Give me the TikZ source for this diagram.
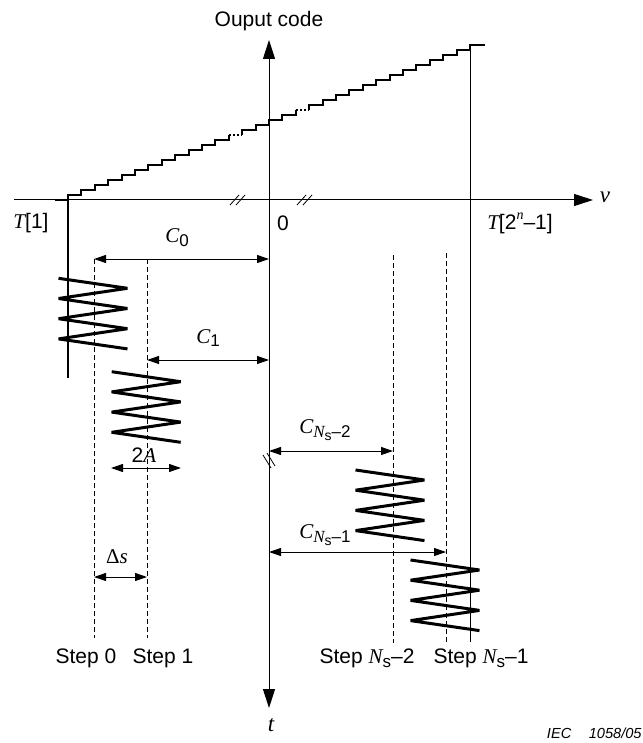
\documentclass[tikz,border=0pt]{standalone}
\usepackage{fontspec}
\setmainfont{Liberation Sans}
\newfontfamily\tms{Liberation Serif}
\usetikzlibrary{arrows.meta}
\newcommand{\vi}[1]{{\tms\itshape #1}}
\newcommand{\lo}[1]{\raisebox{-0.35ex}{\fontsize{8.5}{9}\selectfont #1}}
\newcommand{\llo}[1]{\raisebox{-0.3ex}{\fontsize{7}{8}\selectfont #1}}
\newcommand{\up}[1]{\raisebox{0.9ex}{\fontsize{7}{8}\selectfont #1}}

\begin{document}
\begin{tikzpicture}[x=0.5pt, y=-0.5pt,
    txt/.style={inner sep=0pt, font=\fontsize{10.5}{12}\selectfont},
    axis/.style={line width=0.5pt},
    dim/.style={line width=0.5pt, {Triangle[length=6pt,width=4pt]}-{Triangle[length=6pt,width=4pt]}},
    guide/.style={line width=0.5pt, dash pattern=on 2.5pt off 1.5pt},
    stair/.style={line width=1pt},
    zig/.style={line width=1.5pt, line join=bevel},
    brk/.style={line width=0.4pt},
    zigzag/.pic={\draw[zig] (-34.5,0) -- (34.5,10) foreach \i in {1,2,3}{ -- (-34.5,20.2*\i) -- (34.5,10+20.2*\i) };}
]
\useasboundingbox (0,0) rectangle (642,743);

% axes
\coordinate (top) at (269,40);
\coordinate (bot) at (269,708);
\coordinate (vbeg) at (14,200);
\coordinate (vend) at (593,200);
\draw[axis, {Triangle[length=9.5pt,width=6pt]}-{Triangle[length=9.5pt,width=6pt]}] (bot) -- (top);
\draw[axis, -{Triangle[length=9.5pt,width=6pt]}] (vbeg) -- (vend);
\draw[brk] (230,205) -- (239,195) (236,205) -- (245,195);
\draw[brk] (297,205) -- (306,195) (303,205) -- (312,195);
\draw[brk] (263,455) -- (271,468) (267,453) -- (275,466);

\node[txt] (lout) at (269,21) {Ouput code};
\node[txt, font=\fontsize{11.5}{12}\selectfont] (lv) at (605,197) {\vi{v}};
\node[txt, font=\fontsize{11.5}{12}\selectfont] (lt) at (271,725) {\vi{t}};
\node[txt] (lT1) at (31,223) {\vi{T}[1]};
\node[txt] (lzero) at (283,223) {0};
\node[txt] (lTn) at (520,223) {\vi{T}[2\up{\vi{n}}--1]};

% transfer staircase
\draw[stair] (55,200) -- (68,200) foreach \k in {0,...,11}{ -- ++(0,-5) -- ++(13.4,0) } -- ++(0,-5) coordinate (d1);
\draw[stair, dash pattern=on 1pt off 1pt] (d1) -- ++(13.4,0) coordinate (d1e);
\draw[stair] (d1e) foreach \k in {13,...,16}{ -- ++(0,-5) -- ++(13.4,0) } -- ++(0,-5) coordinate (d2);
\draw[stair, dash pattern=on 1pt off 1pt] (d2) -- ++(13.4,0) coordinate (d2e);
\draw[stair] (d2e) foreach \k in {18,...,29}{ -- ++(0,-5) -- ++(13.4,0) } -- ++(0,-5) -- ++(15,0);

% code transition lines
\draw[line width=0.8pt] (68,200) -- (68,378);
\draw[axis] (470,50) -- (470,642);

% step lines
\coordinate (g0) at (94,259);  \coordinate (g0b) at (94,638);
\coordinate (g1) at (147,259); \coordinate (g1b) at (147,638);
\coordinate (g2) at (393,255); \coordinate (g2b) at (393,643);
\coordinate (g3) at (446,253); \coordinate (g3b) at (446,643);
\draw[guide] (g0) -- (g0b);
\draw[guide] (g1) -- (g1b);
\draw[guide] (g2) -- (g2b);
\draw[guide] (g3) -- (g3b);

% triangular dither at each step
\pic (z0) at (93,278.3) {zigzag};
\pic (z1) at (146.2,371.7) {zigzag};
\pic (z2) at (390,470) {zigzag};
\pic (z3) at (445,560) {zigzag};

% dimensions
\coordinate (c0) at (top |- g0);
\coordinate (c1a) at (147,360); \coordinate (c1b) at (269,360);
\coordinate (c2a) at (269,451); \coordinate (c2b) at (393,451);
\coordinate (c3a) at (269,552); \coordinate (c3b) at (446,552);
\coordinate (aa) at (111,468);  \coordinate (ab) at (181,468);
\coordinate (sa) at (94,577);   \coordinate (sb) at (147,577);
\draw[dim] (g0) -- (c0);
\draw[dim] (c1a) -- (c1b);
\draw[dim] (c2a) -- (c2b);
\draw[dim] (c3a) -- (c3b);
\draw[dim] (aa) -- (ab);
\draw[dim] (sa) -- (sb);

\node[txt] (lC0) at (177,238) {\vi{C}\lo{0}};
\node[txt] (lC1) at (208,338) {\vi{C}\lo{1}};
\node[txt] (lC2) at (325,430) {\vi{C}\lo{\vi{N}\llo{s}--2}};
\node[txt] (lC3) at (325,535) {\vi{C}\lo{\vi{N}\llo{s}--1}};
\node[txt] (lA) at (144,455) {2\vi{A}};
\node[txt] (ls) at (117,557) {{\tms Δ}\vi{s}};

\node[txt] (st0) at (86,658) {Step 0};
\node[txt] (st1) at (163,658) {Step 1};
\node[txt] (st2) at (367,658) {Step \vi{N}\lo{s}--2};
\node[txt] (st3) at (481,658) {Step \vi{N}\lo{s}--1};

\node[txt, anchor=east, font=\fontsize{7.3}{8}\selectfont\itshape] (iec) at (642,733) {IEC\hspace{1.2em}1058/05};
\end{tikzpicture}
\end{document}
